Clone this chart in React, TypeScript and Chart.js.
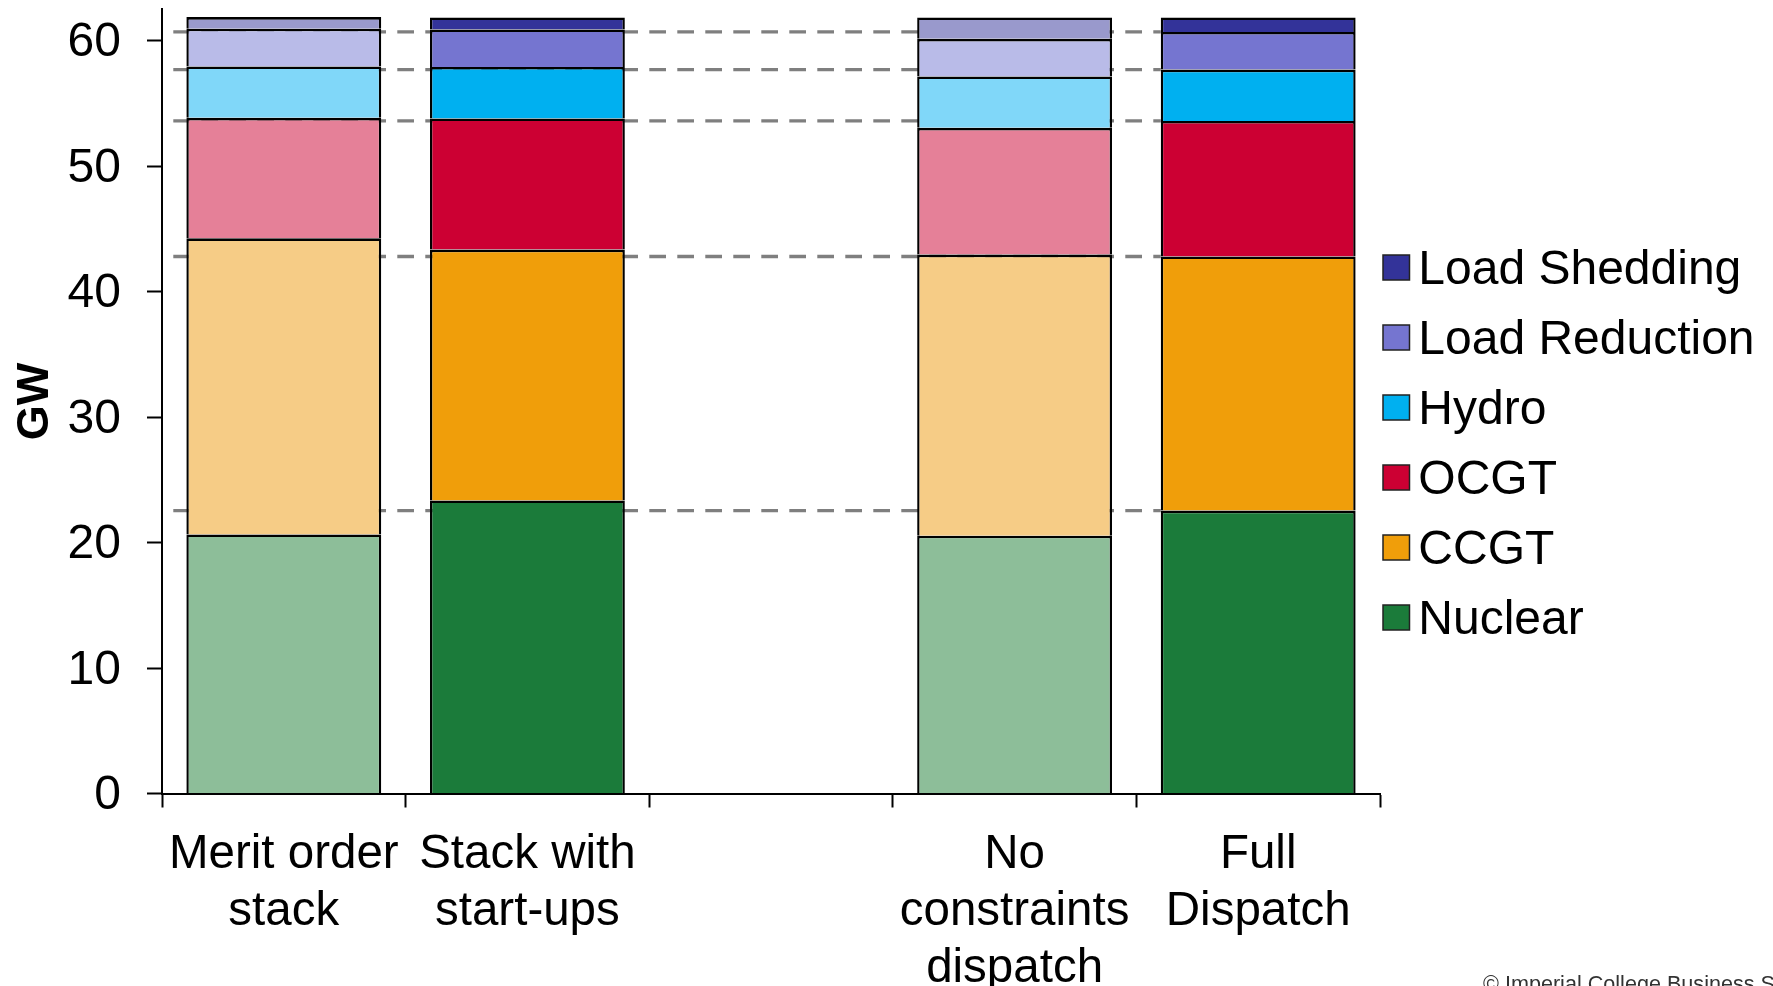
import React, { useEffect, useRef } from 'react';
import { Chart, registerables } from 'chart.js';

Chart.register(...registerables);

// ---- data ----
const CATEGORIES: (string | string[])[] = [
  ['Merit order', 'stack'],
  ['Stack with', 'start-ups'],
  '',
  ['No', 'constraints', 'dispatch'],
  ['Full', 'Dispatch'],
];
const SERIES = ['Nuclear', 'CCGT', 'OCGT', 'Hydro', 'Load Reduction', 'Load Shedding'];
const NUCLEAR = [20.65, 23.35, null, 20.55, 22.55];
const CCGT = [23.6, 20.0, null, 22.4, 20.25];
const OCGT = [9.6, 10.45, null, 10.1, 10.8];
const HYDRO = [4.1, 4.1, null, 4.1, 4.1];
const LOAD_REDUCTION = [3.0, 3.0, null, 3.0, 3.0];
const LOAD_SHEDDING = [0.93, 0.95, null, 1.7, 1.15];
const SERIES_VALUES = [NUCLEAR, CCGT, OCGT, HYDRO, LOAD_REDUCTION, LOAD_SHEDDING];
const Y_MIN = 0;
const Y_MAX = 62.5;
const Y_STEP = 10;
const REFERENCE_CATEGORY = 4; // dashed lines follow this bar's levels
const PALE_CATEGORY = [true, false, false, true, false];

// ---- styles ----
const FULL_COLORS = ['#1B7B3A', '#F09E0A', '#CC0033', '#00B0F0', '#7575D0', '#333399'];
const PALE_COLORS = ['#8DBE99', '#F6CC86', '#E58098', '#80D7F9', '#B9BBE8', '#9999CC'];
const FONT = '"Liberation Sans", Arial, sans-serif';

const dashedLevels = {
  id: 'dashedLevels',
  beforeDatasetsDraw(chart: any) {
    const { ctx, chartArea, scales } = chart;
    const meta = chart.getDatasetMeta(0);
    const el = meta.data[REFERENCE_CATEGORY];
    if (!el) return;
    const { x, width } = el.getProps(['x', 'width'], true);
    const xEnd = x - width / 2;
    let cum = 0;
    ctx.save();
    ctx.strokeStyle = '#7f7f7f';
    ctx.lineWidth = 3.3;
    ctx.setLineDash([16.7, 11.3]);
    ctx.lineDashOffset = 16.7;
    for (let s = 0; s < SERIES_VALUES.length - 1; s++) {
      cum += SERIES_VALUES[s][REFERENCE_CATEGORY] as number;
      const y = scales.y.getPixelForValue(cum);
      ctx.beginPath();
      ctx.moveTo(chartArea.left, y);
      ctx.lineTo(xEnd, y);
      ctx.stroke();
    }
    ctx.restore();
  },
};

const customLegend = {
  id: 'customLegend',
  afterDraw(chart: any) {
    const { ctx, chartArea } = chart;
    ctx.save();
    const n = SERIES.length;
    const bx = chartArea.right + 3;
    for (let i = 0; i < n; i++) {
      const s = n - 1 - i;
      const cy = 267.5 + i * 70;
      ctx.fillStyle = FULL_COLORS[s];
      ctx.fillRect(bx, cy - 12.5, 26.5, 25);
      ctx.strokeStyle = '#222';
      ctx.lineWidth = 1.5;
      ctx.strokeRect(bx, cy - 12.5, 26.5, 25);
      ctx.fillStyle = '#000';
      ctx.font = `48px ${FONT}`;
      ctx.textBaseline = 'middle';
      ctx.textAlign = 'left';
      ctx.fillText(SERIES[s], bx + 35.3, cy + 3.2);
    }
    ctx.font = `21.6px ${FONT}`;
    ctx.fillStyle = '#333';
    ctx.textBaseline = 'top';
    ctx.fillText('© Imperial College Business School', 1483, 974);
    ctx.restore();
  },
};

export default function App() {
  const ref = useRef<HTMLCanvasElement | null>(null);

  useEffect(() => {
    if (!ref.current) return;
    Chart.defaults.font.family = FONT;
    const chart = new Chart(ref.current, {
      type: 'bar',
      data: {
        labels: CATEGORIES as any,
        datasets: SERIES.map((name, i) => ({
          label: name,
          data: SERIES_VALUES[i] as any,
          backgroundColor: CATEGORIES.map((_, j) => (PALE_CATEGORY[j] ? PALE_COLORS[i] : FULL_COLORS[i])),
          borderColor: '#000',
          borderWidth: { top: 2.6, left: 2.4, right: 2.4, bottom: 0 },
          borderSkipped: false,
          barPercentage: 0.8,
          categoryPercentage: 1,
        })),
      },
      options: {
        responsive: false,
        animation: false,
        layout: { padding: { left: 9, top: 9.3, right: 393, bottom: 0 } },
        plugins: {
          legend: { display: false },
          tooltip: { enabled: false },
        },
        scales: {
          x: {
            stacked: true,
            offset: true,
            grid: {
              display: true,
              offset: true,
              drawOnChartArea: false,
              drawTicks: true,
              tickLength: 14,
              tickColor: '#000',
              tickWidth: 2,
            },
            border: { display: true, color: '#000', width: 2 },
            ticks: {
              color: '#000',
              font: { size: 47.5, lineHeight: 1.2 },
              padding: 18.5,
              maxRotation: 0,
              minRotation: 0,
              autoSkip: false,
            },
            afterFit(scale: any) {
              scale.height = 192.5;
              scale.paddingLeft = 0;
              scale.paddingRight = 0;
            },
          },
          y: {
            stacked: true,
            min: Y_MIN,
            max: Y_MAX,
            ticks: {
              stepSize: Y_STEP,
              includeBounds: false,
              color: '#000',
              font: { size: 48 },
              padding: 26,
              labelOffset: 2.5,
            },
            grid: {
              drawOnChartArea: false,
              drawTicks: true,
              tickLength: 15,
              tickColor: '#000',
              tickWidth: 2,
            },
            border: { display: true, color: '#000', width: 2 },
            title: {
              display: true,
              text: 'GW',
              color: '#000',
              font: { size: 45, weight: 'bold', lineHeight: 1.2 },
              padding: 0,
            },
            afterFit(scale: any) {
              scale.width = 153;
              scale.paddingTop = 0;
              scale.paddingBottom = 0;
            },
          },
        },
      },
      plugins: [dashedLevels, customLegend],
    } as any);
    return () => chart.destroy();
  }, []);

  return (
    <div style={{ position: 'absolute', left: 0, top: 0, width: 1773, height: 986, background: '#fff' }}>
      <canvas ref={ref} width={1773} height={986} style={{ display: 'block' }} />
    </div>
  );
}
